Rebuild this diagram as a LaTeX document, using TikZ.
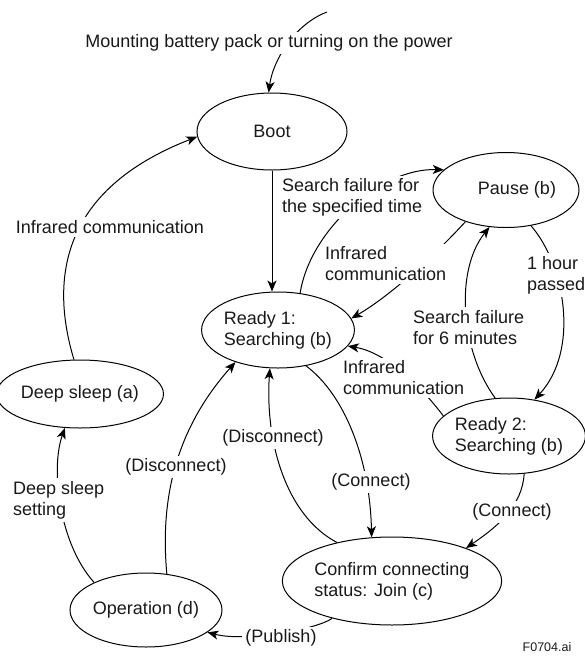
\documentclass[tikz,border=0pt]{standalone}
\usepackage{fontspec}
\setmainfont{Liberation Sans}
\usetikzlibrary{shapes.geometric,arrows.meta}
\newcommand{\diagfont}{\fontsize{18}{21}\selectfont}
\begin{document}
\begin{tikzpicture}[x=1pt,y=-1pt,
  state/.style={draw,ellipse,line width=1pt,inner sep=0pt,font=\diagfont,align=left,text=black!90},
  lbl/.style={fill=white,inner sep=3pt,font=\diagfont,align=left,text=black!90},
  conn/.style={line width=1pt,-{Stealth[length=11pt,width=9pt,inset=3pt]}}]
\useasboundingbox (0,0) rectangle (585,657);
% states
\node[state,minimum width=150pt,minimum height=77pt] (boot) at (272,131.5) {Boot};
\node[state,minimum width=152pt,minimum height=76pt] (ready1) at (278,330) {Ready 1:\\Searching (b)};
\node[state,minimum width=146pt,minimum height=75pt,label={[font=\diagfont,text=black!90,xshift=11pt]center:Pause (b)}] (pause) at (506,190) {};
\node[state,minimum width=150pt,minimum height=76pt] (ready2) at (509,436) {Ready 2:\\Searching (b)};
\node[state,minimum width=148pt,minimum height=68pt] (deep) at (80,394) {Deep sleep (a)};
\node[state,minimum width=152pt,minimum height=74pt] (oper) at (146,610) {Operation (d)};
\node[state,minimum width=210pt,minimum height=88pt] (confirm) at (392,581) {Confirm connecting\\status: Join (c)};
% connectors
\coordinate (start) at (327,12);
\draw[conn] (start) .. controls (295,24) and (273,60) .. (boot.95);
\draw[conn] (boot.south) -- (boot.south |- ready1.north);
\draw[conn] (ready1.59) .. controls (310,230) and (380,168) .. (pause.162);
\draw[conn] (pause.218) .. controls (435,255) and (390,296) .. (ready1.9);
\draw[conn] (pause.305) .. controls (565,265) and (580,350) .. (ready2.55);
\draw[conn] (ready2.110) .. controls (460,350) and (455,270) .. (pause.246);
\draw[conn] (ready2.163) .. controls (420,385) and (385,352) .. (ready1.-13);
\draw[conn] (ready1.308) .. controls (345,395) and (370,460) .. (confirm.115);
\draw[conn] (confirm.145) .. controls (285,515) and (265,440) .. (ready1.258);
\draw[conn] (oper.60) .. controls (160,500) and (175,430) .. (ready1.217);
\draw[conn] (oper.152) .. controls (60,545) and (50,470) .. (deep.246);
\draw[conn] (deep.100) .. controls (50,280) and (60,190) .. (boot.184);
\draw[conn] (confirm.212) .. controls (315,630) and (245,642) .. (oper.340);
\draw[conn] (ready2.292) .. controls (522,505) and (500,525) .. (confirm.24);
% labels
\node[lbl] (mount) at (269,43) {Mounting battery pack or turning on the power};
\node[lbl] (infraL) at (110,227) {Infrared communication};
\node[lbl,anchor=west] (searchA) at (279,197.5) {Search failure for\\the specified time};
\node[lbl,anchor=west] (infraA) at (322,264) {Infrared\\communication};
\node[lbl,anchor=west] (hour) at (524,275) {1 hour\\passed};
\node[lbl,anchor=west] (searchB) at (410,327.5) {Search failure\\for 6 minutes};
\node[lbl,anchor=west] (infraB) at (340,378) {Infrared\\communication};
\node[lbl,anchor=west] (deepset) at (10,500) {Deep sleep\\setting};
\node[lbl] (discM) at (273,438) {(Disconnect)};
\node[lbl] (discL) at (176,467) {(Disconnect)};
\node[lbl] (connM) at (371,482) {(Connect)};
\node[lbl] (connR) at (512,512) {(Connect)};
\node[lbl] (publish) at (281,638) {(Publish)};
\node[font=\fontsize{12.5}{15}\selectfont,text=black!90,inner sep=0pt] (fname) at (547,647) {F0704.ai};
\end{tikzpicture}
\end{document}
